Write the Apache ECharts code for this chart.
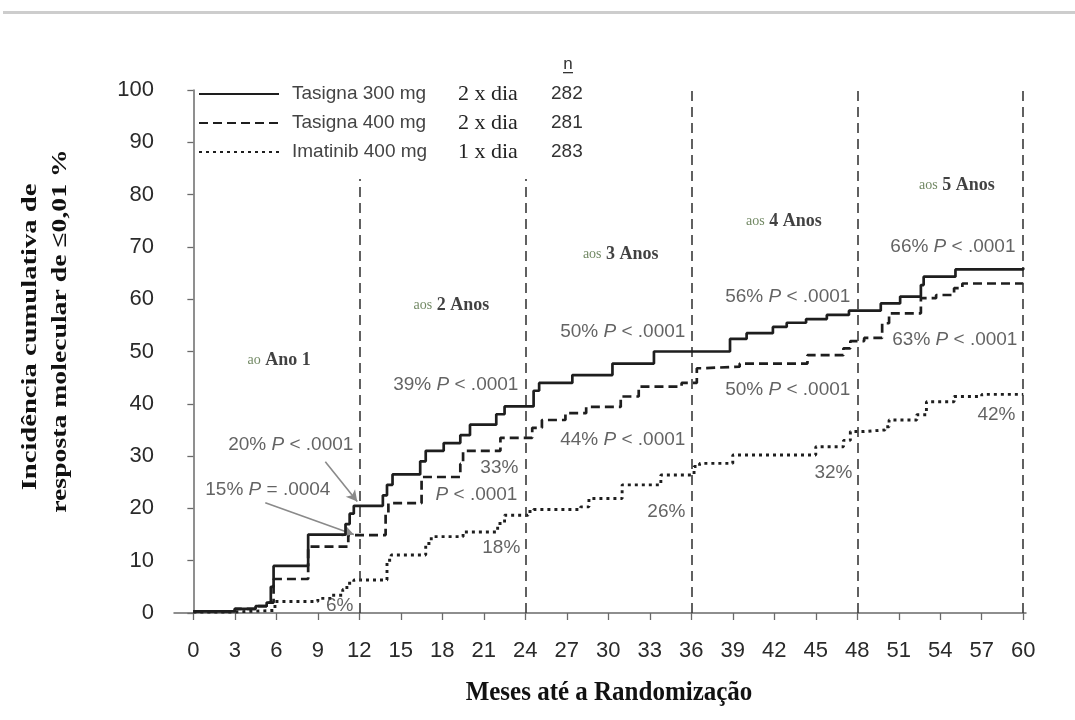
<!DOCTYPE html>
<html><head><meta charset="utf-8">
<script src="https://cdn.jsdelivr.net/npm/echarts@6/dist/echarts.min.js"></script>
<style>html,body{margin:0;padding:0;background:#fff}#c{width:1075px;height:720px}</style>
</head><body><div id="c"></div>
<script>
// ---------- DATA ----------
const seriesNames = ['Tasigna 300 mg', 'Tasigna 400 mg', 'Imatinib 400 mg'];
const dosing = ['2 x dia', '2 x dia', '1 x dia'];
const nPatients = ['282', '281', '283'];

// [month, cumulative incidence %] – step points (value reached at that month)
const nilotinib300 = [[0,0.3],[3,0.8],[4.5,1.3],[5.3,2],[5.6,5],[5.8,9],[8.3,15],[11,17],[11.3,19],[11.6,20.5],[13.7,22.5],[14,24.5],[14.4,26.5],[16.4,29],[16.8,31],[18.1,32.5],[19.3,34],[20,36],[21.9,38],[22.5,39.5],[24.6,42.5],[25,44],[27.4,45.5],[30.3,47.7],[33.3,50],[38.8,52.4],[40,53.5],[41.9,54.7],[42.9,55.5],[44.3,56.2],[45.8,57],[47.4,57.8],[49.7,59.2],[51.1,60.5],[52.6,62.7],[52.8,64.3],[55.1,65.7],[60,66]];
const nilotinib400 = [[0,0.3],[3,0.8],[4.5,1.3],[5.3,2],[5.8,6.5],[8.3,12.7],[11.2,14.9],[13.9,19],[14.1,21],[16.5,26],[19.3,28.5],[19.5,31],[22.2,33.5],[24.5,35.4],[25.2,36.9],[26.9,38.2],[28.4,39.4],[30.9,41.4],[32.2,43.3],[35.3,44],[36.4,46.8],[36.8,47.1],[39.5,47.7],[44.4,49.3],[47,50.6],[47.5,52],[48.5,52.6],[49.8,55.4],[50.3,57.3],[52.6,60.2],[53.7,60.8],[55,62.1],[55.6,63],[60,63]];
const imatinib400 = [[0,0.2],[3,0.5],[5.9,2.2],[9,2.8],[10,3.4],[10.8,4.5],[11.1,5.7],[11.6,6.3],[14,10.1],[14.3,11.1],[16.8,13.3],[17.2,14.6],[19.5,15.5],[22,17.1],[22.5,18.7],[24.2,19.4],[24.6,19.8],[28,20.3],[28.6,21.9],[31,24.5],[33.8,26.4],[36.2,28],[36.6,28.6],[39,30.2],[45,31.8],[47,33],[47.5,34.7],[48.5,35],[50,35.6],[50.3,36.9],[52.3,37.9],[53,40.4],[55,41.4],[57,41.8],[60,41.8]];

const xTickValues = [0,3,6,9,12,15,18,21,24,27,30,33,36,39,42,45,48,51,54,57,60];
const yearMonths = [12, 24, 36, 48, 60];
const yearPrefix = ['ao', 'aos', 'aos', 'aos', 'aos'];
const yearText = ['Ano 1', '2 Anos', '3 Anos', '4 Anos', '5 Anos'];
const pctTexts = ['20%', '15%', '6%', '33%', '', '18%', '39%', '50%', '44%', '26%', '56%', '50%', '32%', '66%', '63%', '42%'];
const pTexts = ['< .0001', '= .0004', '', '', '< .0001', '', '< .0001', '< .0001', '< .0001', '', '< .0001', '< .0001', '', '< .0001', '< .0001', ''];

// ---------- LAYOUT (data-space anchors, kept separate from data) ----------
const yearLineTop = [83, 83, 100, 100, 100];
const yearLabelAnchor = [[6.2,48.4],[18.65,58.9],[30.9,68.5],[42.7,74.8],[55.2,81.8]];
const pctAnchor = [[11.57,32.1],[9.91,23.5],[11.57,1.3],[23.5,27.7],[23.43,22.6],[23.64,12.4],[23.5,43.6],[35.57,53.7],[35.57,33.1],[35.57,19.3],[47.5,60.4],[47.5,42.6],[47.65,26.8],[59.44,70.0],[59.58,52.2],[59.44,37.9]];
const arrowSegs = [[[9.54,28.9],[11.85,21.3]],[[5.2,21.1],[11.6,15.0]]];

const SANS = '"Liberation Sans", Arial, sans-serif';
const SERIF = '"Liberation Serif", "Times New Roman", serif';
const LINE = '#1e1e1e';
const TXT = '#3c3c3c';

function pctLabel(i) {
  let s = '';
  if (pctTexts[i]) s += '{n|' + pctTexts[i] + (pTexts[i] ? ' ' : '') + '}';
  if (pTexts[i]) s += '{p|P}{n| ' + pTexts[i] + '}';
  return s;
}

const chart = echarts.init(document.getElementById('c'), null, {renderer: 'canvas'});

const option = {
  animation: false,
  backgroundColor: '#fff',
  textStyle: {fontFamily: SANS},
  grid: {left: 174, right: 49, top: 90, bottom: 107, containLabel: false},
  xAxis: {
    type: 'value', min: -1.4, max: 60.2,
    axisLine: {show: true, lineStyle: {color: '#6a6a6a', width: 1.5}},
    axisTick: {show: true, customValues: xTickValues, length: 7, lineStyle: {color: '#6a6a6a', width: 1.3}},
    axisLabel: {customValues: xTickValues, fontSize: 22, color: '#2a2a2a', margin: 27, fontFamily: SANS},
    splitLine: {show: false}
  },
  yAxis: {
    type: 'value', min: 0, max: 100, interval: 10,
    axisLine: {show: true, lineStyle: {color: '#6a6a6a', width: 1.5}},
    axisTick: {show: true, length: 6, lineStyle: {color: '#6a6a6a', width: 1.3}},
    axisLabel: {fontSize: 22, color: '#2a2a2a', margin: 20, fontFamily: SANS},
    splitLine: {show: false}
  },
  legend: {
    data: seriesNames,
    orient: 'vertical', left: 198, top: 83, padding: 0,
    itemWidth: 80, itemHeight: 14, itemGap: 7,
    itemStyle: {opacity: 0},
    selectedMode: false,
    formatter: function (name) {
      const i = seriesNames.indexOf(name);
      return '{a|' + name + '}{b|' + dosing[i] + '}{c|' + nPatients[i] + '}';
    },
    textStyle: {
      rich: {
        a: {fontFamily: SANS, fontSize: 19, color: '#444', width: 166, padding: [0,0,0,8], lineHeight: 22},
        b: {fontFamily: SERIF, fontSize: 22, color: '#222', width: 93, lineHeight: 22},
        c: {fontFamily: SANS, fontSize: 19, color: '#333', lineHeight: 22}
      }
    }
  },
  series: [
    {name: seriesNames[0], type: 'line', step: 'end', symbol: 'none', data: nilotinib300,
     lineStyle: {color: LINE, width: 2.7, type: 'solid'}, itemStyle: {color: LINE}, z: 5},
    {name: seriesNames[1], type: 'line', step: 'end', symbol: 'none', data: nilotinib400,
     lineStyle: {color: LINE, width: 2.7, type: [9, 5]}, itemStyle: {color: LINE}, z: 4},
    {name: seriesNames[2], type: 'line', step: 'end', symbol: 'none', data: imatinib400,
     lineStyle: {color: LINE, width: 2.9, type: [3, 4]}, itemStyle: {color: LINE}, z: 3},
    {
      name: 'pct', type: 'scatter', symbolSize: 0, silent: true, z: 6,
      data: pctAnchor.map((a, i) => ({value: a, label: {formatter: pctLabel(i)}})),
      label: {show: true, position: 'left', distance: 0, align: 'right', verticalAlign: 'middle',
        rich: {
          n: {fontFamily: SANS, fontSize: 19, color: TXT},
          p: {fontFamily: SANS, fontSize: 19, color: TXT, fontStyle: 'italic'}
        }},
      markLine: {
        silent: true, symbol: ['none', 'none'], label: {show: false},
        lineStyle: {color: '#3a3a3a', width: 1.6, type: [10, 6]},
        data: yearMonths.map((m, i) => [{coord: [m, 0]}, {coord: [m, yearLineTop[i]]}])
      }
    },
    {
      name: 'years', type: 'scatter', symbolSize: 0, silent: true, z: 6,
      data: yearLabelAnchor.map((a, i) => ({value: a, label: {formatter: '{s|' + yearPrefix[i] + '}{b| ' + yearText[i] + '}'}})),
      label: {show: true, position: 'inside', align: 'center', verticalAlign: 'middle',
        rich: {
          s: {fontFamily: SERIF, fontSize: 14, color: '#4d6a3c'},
          b: {fontFamily: SERIF, fontSize: 18, fontWeight: 'bold', color: '#111'}
        }},
      markLine: {
        silent: true, symbol: ['none', 'arrow'], symbolSize: [9, 11], label: {show: false},
        lineStyle: {color: '#8a8a8a', width: 1.6, type: 'solid'},
        data: arrowSegs.map(s => [{coord: s[0]}, {coord: s[1]}])
      }
    }
  ],
  graphic: [
    {type: 'rect', shape: {x: 3, y: 11, width: 1072, height: 3}, style: {fill: '#cdcdcd'}},
    {type: 'text', x: 30, y: 337, rotation: Math.PI / 2, scaleX: 1.3,
     style: {text: 'Incidência cumulativa de', font: 'bold 22px ' + SERIF, fill: '#111', align: 'center', verticalAlign: 'middle'}},
    {type: 'text', x: 60, y: 331, rotation: Math.PI / 2, scaleX: 1.26,
     style: {text: 'resposta molecular de \u22640,01 %', font: 'bold 22px ' + SERIF, fill: '#111', align: 'center', verticalAlign: 'middle'}},
    {type: 'text', x: 609, y: 693, scaleY: 1.12,
     style: {text: 'Meses até a Randomização', font: 'bold 25px ' + SERIF, fill: '#111', align: 'center', verticalAlign: 'middle'}},
    {type: 'text', x: 568, y: 64,
     style: {text: 'n', font: '17px ' + SANS, fill: '#333', align: 'center', verticalAlign: 'middle'}},
    {type: 'rect', shape: {x: 563, y: 72, width: 10, height: 1.3}, style: {fill: '#333'}}
  ]
};
chart.setOption(option);
</script>
</body></html>
